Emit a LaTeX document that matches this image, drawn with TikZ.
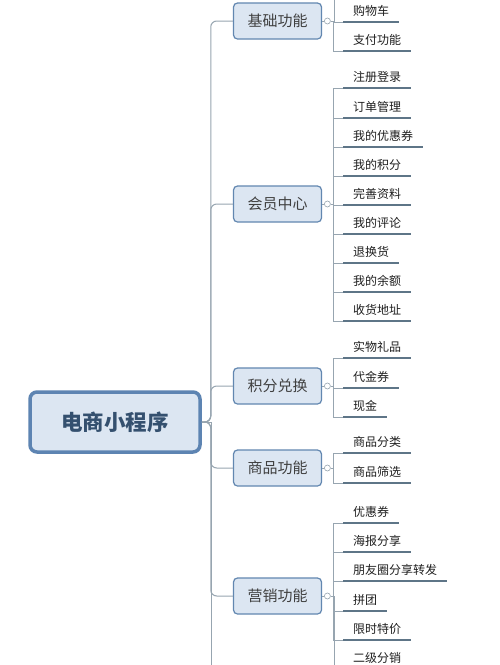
\documentclass[tikz,border=0pt]{standalone}
\usepackage{fontspec}
\setmainfont{Noto Sans CJK SC}
\usetikzlibrary{positioning,calc}
\definecolor{boxfill}{HTML}{DCE6F2}
\definecolor{boxline}{HTML}{6287B0}
\definecolor{rootline}{HTML}{5D84B2}
\definecolor{roottext}{HTML}{34506F}
\definecolor{linkgray}{HTML}{97A5B0}
\definecolor{ulgray}{HTML}{5E7587}
\tikzset{
  rootbox/.style={draw=rootline,line width=3.5pt,fill=boxfill,rounded corners=7pt,
    minimum width=170pt,minimum height=60pt,text=roottext,
    font=\fontsize{21.5}{21.5}\selectfont\bfseries},
  topicbox/.style={draw=boxline,line width=1.2pt,fill=boxfill,rounded corners=4pt,
    minimum width=88pt,minimum height=36pt,text=black!75,
    font=\fontsize{15}{15}\selectfont},
  leaf/.style={anchor=south west,inner xsep=10pt,inner ysep=4pt,text height=10pt,
    text depth=2pt,text=black!88,font=\fontsize{12}{12}\selectfont,
    append after command={(\tikzlastnode.south west) edge[underline] (\tikzlastnode.south east)}},
  underline/.style={draw=ulgray,line width=2.8pt},
  trunk/.style={draw=linkgray,line width=1pt,rounded corners=6pt},
  twig/.style={draw=linkgray,line width=1pt},
  knob/.style={circle,draw=linkgray,fill=white,line width=0.6pt,inner sep=0pt,minimum size=6pt},
}

\begin{document}
\begin{tikzpicture}[x=1pt,y=-1pt]

\useasboundingbox (0,0) rectangle (500,665);
\fill[white] (0,0) rectangle (500,665);
\clip (0,0) rectangle (500,665);

% root and topics
\node[rootbox] (app) at (115,422) {电商小程序};
\node[topicbox] (jc) at (277.5,21) {基础功能};
\node[topicbox] (hy) at (277.5,204) {会员中心};
\node[topicbox] (jf) at (277.5,386) {积分兑换};
\node[topicbox] (sp) at (277.5,468) {商品功能};
\node[topicbox] (yx) at (277.5,596) {营销功能};

\node[knob,right=2pt of jc] (jck) {};
\node[knob,right=2pt of hy] (hyk) {};
\node[knob,right=2pt of jf] (jfk) {};
\node[knob,right=2pt of sp] (spk) {};
\node[knob,right=2pt of yx] (yxk) {};

\coordinate (trunkend) at (211,690);
\coordinate (jccut) at (334,-5);
\coordinate (yxcut) at (334,690);

% leaves
\node[leaf] (jc1) at (343,22) {购物车};
\node[leaf] (jc2) at (343,51) {支付功能};

\node[leaf] (hy1) at (343,88) {注册登录};
\node[leaf] (hy2) at (343,118) {订单管理};
\node[leaf] (hy3) at (343,147) {我的优惠券};
\node[leaf] (hy4) at (343,176) {我的积分};
\node[leaf] (hy5) at (343,205) {完善资料};
\node[leaf] (hy6) at (343,234) {我的评论};
\node[leaf] (hy7) at (343,263) {退换货};
\node[leaf] (hy8) at (343,292) {我的余额};
\node[leaf] (hy9) at (343,321) {收货地址};

\node[leaf] (jf1) at (343,358) {实物礼品};
\node[leaf] (jf2) at (343,388) {代金券};
\node[leaf] (jf3) at (343,417) {现金};

\node[leaf] (sp1) at (343,453) {商品分类};
\node[leaf] (sp2) at (343,483) {商品筛选};

\node[leaf] (yx1) at (343,523) {优惠券};
\node[leaf] (yx2) at (343,552) {海报分享};
\node[leaf] (yx3) at (343,581) {朋友圈分享转发};
\node[leaf] (yx4) at (343,611) {拼团};
\node[leaf] (yx5) at (343,640) {限时特价};
\node[leaf] (yx6) at (343,669) {二级分销};

% trunk
\draw[trunk] (app.east) -- ++(9,0) |- (jc.west);
\draw[trunk] (app.east) -- ++(9,0) |- (hy.west);
\draw[trunk] (app.east) -- ++(9,0) |- (jf.west);
\draw[trunk] (app.east) -- ++(9,0) |- (sp.west);
\draw[trunk] (app.east) -- ++(9,0) |- (yx.west);
\draw[twig] (app.east) -- (app.east -| trunkend) -- (trunkend);

% topic to knob
\draw[twig] (jc.east) -- (jck) (hy.east) -- (hyk) (jf.east) -- (jfk)
  (sp.east) -- (spk) (yx.east) -- (yxk);

% knob to leaves
\draw[twig] (jck.east) -| (jccut)
  (jck.east) -- ++(3,0) |- (jc1.south west)
  (jck.east) -- ++(3,0) |- (jc2.south west);
\draw[twig] (hyk.east) -- ++(3,0) |- (hy1.south west)
  (hyk.east) -- ++(3,0) |- (hy2.south west)
  (hyk.east) -- ++(3,0) |- (hy3.south west)
  (hyk.east) -- ++(3,0) |- (hy4.south west)
  (hyk.east) -- ++(3,0) |- (hy5.south west)
  (hyk.east) -- ++(3,0) |- (hy6.south west)
  (hyk.east) -- ++(3,0) |- (hy7.south west)
  (hyk.east) -- ++(3,0) |- (hy8.south west)
  (hyk.east) -- ++(3,0) |- (hy9.south west);
\draw[twig] (jfk.east) -- ++(3,0) |- (jf1.south west)
  (jfk.east) -- ++(3,0) |- (jf2.south west)
  (jfk.east) -- ++(3,0) |- (jf3.south west);
\draw[twig] (spk.east) -- ++(3,0) |- (sp1.south west)
  (spk.east) -- ++(3,0) |- (sp2.south west);
\draw[twig] (yxk.east) -| (yxcut)
  (yxk.east) -- ++(3,0) |- (yx1.south west)
  (yxk.east) -- ++(3,0) |- (yx2.south west)
  (yxk.east) -- ++(3,0) |- (yx3.south west)
  (yxk.east) -- ++(3,0) |- (yx4.south west)
  (yxk.east) -- ++(3,0) |- (yx5.south west);

\end{tikzpicture}
\end{document}
